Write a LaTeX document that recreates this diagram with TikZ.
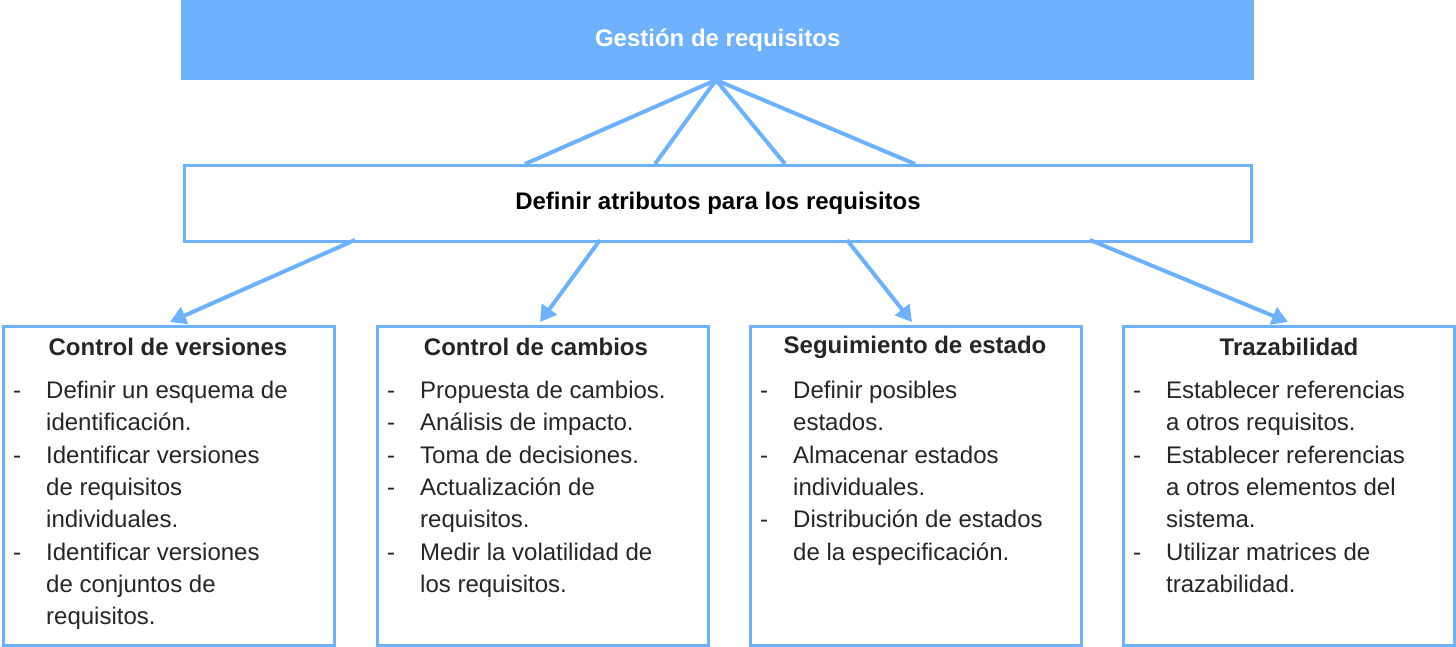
\documentclass[tikz,border=0pt]{standalone}
\usepackage{fontspec}
\setmainfont{Liberation Sans}
\usetikzlibrary{arrows.meta}
\definecolor{bl}{HTML}{6EB1FF}
\definecolor{tx}{HTML}{262626}
\newcommand\Li[1]{\makebox[33pt][l]{-}#1\\}
\newcommand\Lc[1]{\hspace*{33pt}#1\\}
\tikzset{
 conn/.style={draw=bl,line width=4pt},
 arr/.style={conn,-{Triangle[length=16pt,width=18pt]}},
 card/.style={draw=bl,line width=3pt,fill=white,minimum width=331pt,minimum height=319pt,anchor=north west,inner sep=0pt},
 ttl/.style={font=\fontsize{24}{29}\selectfont\bfseries,text=tx,anchor=center},
 lst/.style={font=\fontsize{24}{32.3}\selectfont,text=tx,align=left,anchor=north west,inner sep=0pt}
}
\begin{document}
\begin{tikzpicture}[x=1pt,y=-1pt]
\useasboundingbox (0,0) rectangle (1456,647);
\node[fill=bl,minimum width=1073pt,minimum height=80pt,anchor=north west,inner sep=0pt,text=white,font=\fontsize{24}{29}\selectfont\bfseries] (top) at (181,0) {Gestión de requisitos};
\coordinate (tp) at (716,80);
\coordinate (m1) at (525,164);\coordinate (m2) at (655,164);\coordinate (m3) at (785,164);\coordinate (m4) at (915,164);
\foreach \m in {m1,m2,m3,m4}{\draw[conn] (tp) -- (\m);}
\node[draw=bl,line width=3pt,fill=white,minimum width=1067pt,minimum height=76pt,anchor=north west,inner sep=0pt,font=\fontsize{24}{29}\selectfont\bfseries,text=black] (mid) at (183,164) {Definir atributos para los requisitos};
\foreach \x/\n in {2/c1,376/c2,749/c3,1122/c4}{\node[card] (\n) at (\x,325) {};}
\coordinate (s1) at (355,240);\coordinate (s2) at (600,240);\coordinate (s3) at (847,240);\coordinate (s4) at (1090,240);
\coordinate (e1) at (170,322);\coordinate (e2) at (540,322);\coordinate (e3) at (912,322);\coordinate (e4) at (1288,322);
\foreach \i in {1,2,3,4}{\draw[arr] (s\i) -- (e\i);}
\node[ttl] (t1) at (168,347) {Control de versiones};
\node[ttl] (t2) at (536,347) {Control de cambios};
\node[ttl] (t3) at (915,347) {Seguimiento de estado};
\node[ttl] (t4) at (1289,347) {Trazabilidad};
\node[lst] (l1) at (13,381) {\Li{Definir un esquema de}\Lc{identificación.}\Li{Identificar versiones}\Lc{de requisitos}\Lc{individuales.}\Li{Identificar versiones}\Lc{de conjuntos de}\Lc{requisitos.}};
\node[lst] (l2) at (387,381) {\Li{Propuesta de cambios.}\Li{Análisis de impacto.}\Li{Toma de decisiones.}\Li{Actualización de}\Lc{requisitos.}\Li{Medir la volatilidad de}\Lc{los requisitos.}};
\node[lst] (l3) at (760,381) {\Li{Definir posibles}\Lc{estados.}\Li{Almacenar estados}\Lc{individuales.}\Li{Distribución de estados}\Lc{de la especificación.}};
\node[lst] (l4) at (1133,381) {\Li{Establecer referencias}\Lc{a otros requisitos.}\Li{Establecer referencias}\Lc{a otros elementos del}\Lc{sistema.}\Li{Utilizar matrices de}\Lc{trazabilidad.}};
\end{tikzpicture}
\end{document}
